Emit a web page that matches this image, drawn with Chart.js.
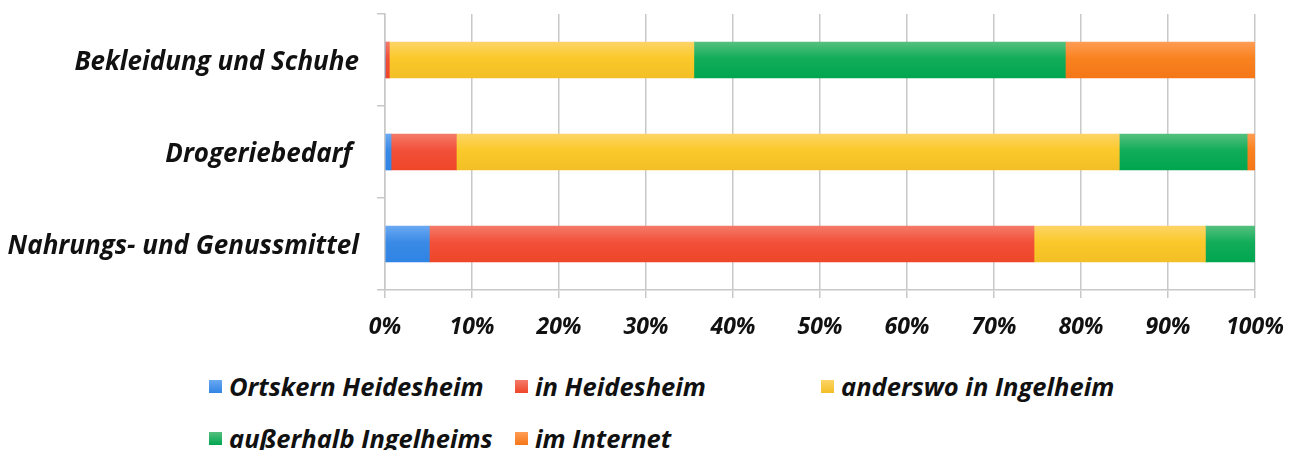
<!DOCTYPE html>
<html>
<head>
<meta charset="utf-8">
<script src="https://cdn.jsdelivr.net/npm/chart.js@4.4.1/dist/chart.umd.min.js"></script>
<style>
  html, body { margin: 0; padding: 0; background: #ffffff; }
  #wrap { position: relative; width: 1303px; height: 450px; overflow: hidden; }
  #cv { position: absolute; left: 0; top: 0; }
  #legend { position: absolute; left: 209px; top: 371px; display: grid;
    grid-template-columns: 306px 306px 300px; row-gap: 22px;
    font-family: "Open Sans", sans-serif; font-weight: 700; font-style: italic; font-size: 25.5px; color: #111; }
  .li { display: flex; align-items: center; height: 30px; white-space: nowrap; }
  .sw { width: 13px; height: 13px; margin-right: 7px; flex: none; }
</style>
</head>
<body>
<div id="wrap">
  <canvas id="cv" width="1303" height="345"></canvas>
  <div id="legend"></div>
</div>
<script>
// ---- data ----
const categories = ["Bekleidung und Schuhe", "Drogeriebedarf ", "Nahrungs- und Genussmittel"];
const seriesNames = ["Ortskern Heidesheim", "in Heidesheim", "anderswo in Ingelheim", "außerhalb Ingelheims", "im Internet"];
const ortskernHeidesheim = [0, 0.7, 5.1];
const inHeidesheim = [0.5, 7.5, 69.5];
const anderswoInIngelheim = [35.0, 76.2, 19.7];
const ausserhalbIngelheims = [42.7, 14.7, 5.7];
const imInternet = [21.8, 0.9, 0];
const xTicks = [0, 10, 20, 30, 40, 50, 60, 70, 80, 90, 100];

// ---- styles ----
const seriesValues = [ortskernHeidesheim, inHeidesheim, anderswoInIngelheim, ausserhalbIngelheims, imInternet];
const solidColors = ["#3a8ae6", "#f2503a", "#fbc92a", "#12ad5a", "#f9821e"];
const gradTop = ["#6aa8f2", "#f47a68", "#fdd466", "#55c07e", "#ff9d55"];
const gradBottom = ["#2f84e4", "#ee4628", "#f2bf26", "#00a54f", "#f47618"];

const FONT = "'Open Sans', sans-serif";

const gradientPlugin = {
  id: 'barGradient',
  beforeDatasetsDraw(chart) {
    const ctx = chart.ctx;
    chart.data.datasets.forEach((ds, di) => {
      const meta = chart.getDatasetMeta(di);
      meta.data.forEach(el => {
        const h = el.height;
        const top = el.y - h / 2;
        const g = ctx.createLinearGradient(0, top, 0, top + h);
        g.addColorStop(0, gradTop[di]);
        g.addColorStop(0.45, solidColors[di]);
        g.addColorStop(1, gradBottom[di]);
        el.options = Object.assign({}, el.options, { backgroundColor: g });
      });
    });
  }
};

const chart = new Chart(document.getElementById('cv'), {
  type: 'bar',
  data: {
    labels: categories,
    datasets: seriesNames.map((name, i) => ({
      label: name,
      data: seriesValues[i],
      backgroundColor: (c) => solidColors[c.datasetIndex],
      borderWidth: 0,
      barThickness: 36
    }))
  },
  options: {
    indexAxis: 'y',
    responsive: false,
    animation: false,
    layout: { padding: { top: 14, right: 48, left: 0, bottom: 0 } },
    plugins: { legend: { display: false }, tooltip: { enabled: false } },
    scales: {
      x: {
        stacked: true,
        min: 0, max: 100,
        afterBuildTicks(scale) { scale.ticks = xTicks.map(v => ({ value: v })); },
        afterFit(scale) { scale.height = 55; scale.paddingLeft = 0; scale.paddingRight = 0; },
        ticks: {
          callback: v => v + '%',
          font: { family: FONT, size: 23, weight: '700', style: 'italic' },
          color: '#111',
          padding: 16,
          maxRotation: 0
        },
        grid: { color: '#c8c8c8', lineWidth: 1.5, tickLength: 8, drawTicks: true },
        border: { color: '#c8c8c8', width: 1.5 }
      },
      y: {
        stacked: true,
        afterFit(scale) { scale.width = 385; scale.paddingTop = 0; scale.paddingBottom = 0; },
        ticks: {
          font: { family: FONT, size: 26, weight: '700', style: 'italic' },
          color: '#111',
          padding: 18,
          labelOffset: 3
        },
        grid: { offset: true, drawOnChartArea: false, color: '#c8c8c8', lineWidth: 1.5, tickLength: 8 },
        border: { color: '#c8c8c8', width: 1.5 }
      }
    }
  },
  plugins: [gradientPlugin]
});

// legend built from the series arrays
const lg = document.getElementById('legend');
seriesNames.forEach((n, i) => {
  const d = document.createElement('div');
  d.className = 'li';
  const s = document.createElement('span');
  s.className = 'sw';
  s.style.background = 'linear-gradient(' + gradTop[i] + ',' + gradBottom[i] + ')';
  const t = document.createElement('span');
  t.textContent = n;
  d.appendChild(s); d.appendChild(t);
  lg.appendChild(d);
});
</script>
</body>
</html>
